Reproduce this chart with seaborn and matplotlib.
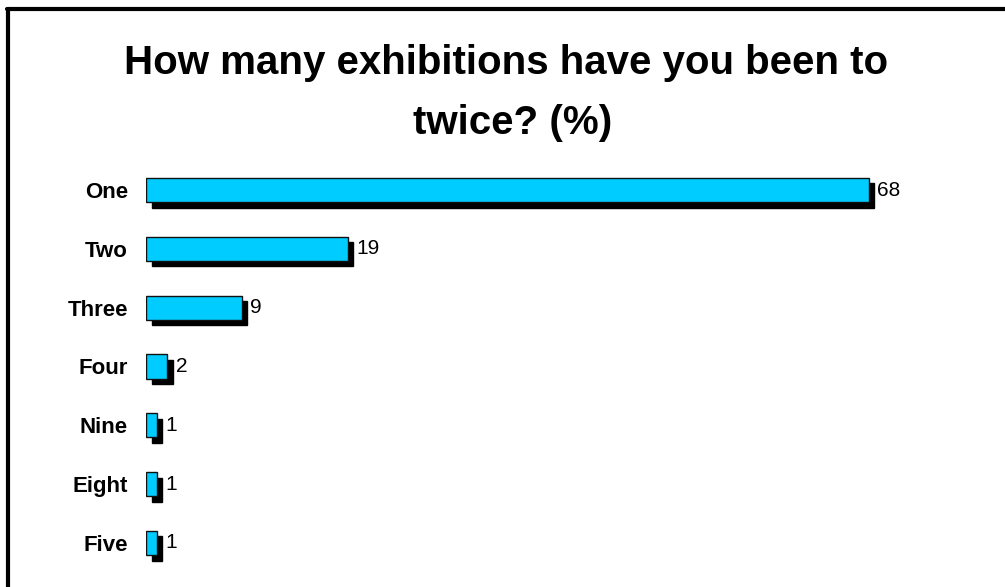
import matplotlib
matplotlib.use('Agg')
import matplotlib.pyplot as plt
import matplotlib.transforms as mtransforms
from matplotlib.lines import Line2D
import seaborn as sns
import pandas as pd

# Chart data
answers = ['One', 'Two', 'Three', 'Four', 'Nine', 'Eight', 'Five']
percent = [68, 19, 9, 2, 1, 1, 1]

df = pd.DataFrame({'answer': answers, 'percent': percent})

sns.set_style('white')
plt.rcParams['font.family'] = ['Liberation Sans', 'DejaVu Sans']
plt.rcParams['text.color'] = 'black'
plt.rcParams['ytick.color'] = 'black'

fig = plt.figure(figsize=(10.05, 5.87), dpi=100)
ax = fig.add_axes([0.1453, 0.0249, 0.81, 0.7015])

# drop shadow: black bars shifted a few pixels right and down
sns.barplot(data=df, y='answer', x='percent', orient='h', color='black',
            width=0.41, saturation=1, ax=ax)
shift = mtransforms.ScaledTranslation(5.5 / 100, -5.5 / 100, fig.dpi_scale_trans)
for p in ax.patches:
    p.set_transform(p.get_data_transform() + shift)
    p.set_edgecolor('black')

sns.barplot(data=df, y='answer', x='percent', orient='h', color='#00CCFF',
            width=0.41, saturation=1, edgecolor='#111111', linewidth=1, ax=ax)
ax.bar_label(ax.containers[-1], labels=[str(v) for v in percent],
             padding=6, fontsize=15, color='black')

ax.set_xlim(0, 76.6)
ax.set_ylim(6.5, -0.5)
ax.set_xlabel('')
ax.set_ylabel('')
ax.set_xticks([])
ax.tick_params(axis='y', length=0, pad=13, labelsize=16, labelcolor='black')
for t in ax.get_yticklabels():
    t.set_fontweight('bold')
sns.despine(ax=ax, left=True, bottom=True)

fig.text(0.504, 1 - 63 / 587, 'How many exhibitions have you been to',
         ha='center', va='center', fontsize=29, fontweight='bold', color='black')
fig.text(0.51, 1 - 123 / 587, 'twice? (%)',
         ha='center', va='center', fontsize=29, fontweight='bold', color='black')

# frame around the slide (left and top edges visible)
fig.add_artist(Line2D([8 / 1005, 8 / 1005], [0, 1 - 9 / 587], color='black',
                      linewidth=3, transform=fig.transFigure))
fig.add_artist(Line2D([6.5 / 1005, 1], [1 - 9 / 587, 1 - 9 / 587], color='black',
                      linewidth=3, transform=fig.transFigure))

fig.savefig('out.png', dpi=100)
